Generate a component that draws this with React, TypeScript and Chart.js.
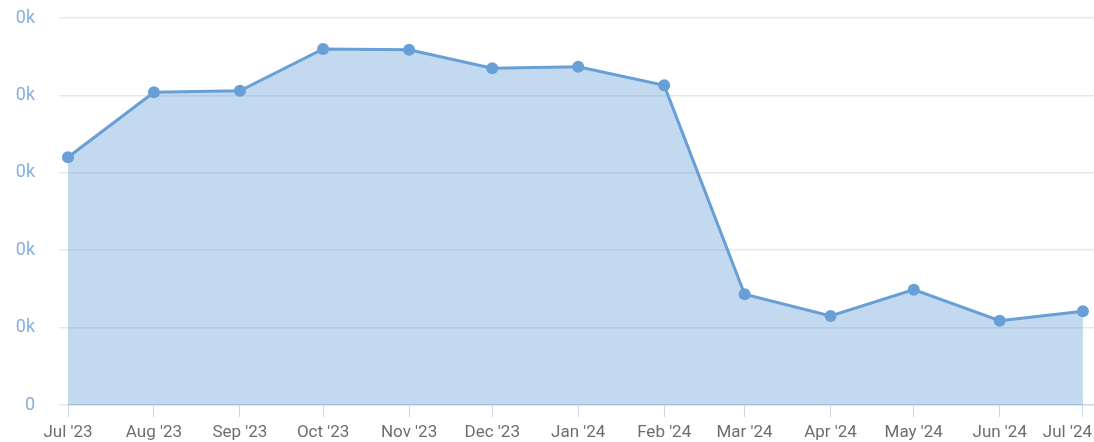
import React, { useEffect, useRef } from "react";
import { Chart, registerables } from "chart.js";

Chart.register(...registerables);

const monthLabels = ["Jul '23", "Aug '23", "Sep '23", "Oct '23", "Nov '23", "Dec '23", "Jan '24", "Feb '24", "Mar '24", "Apr '24", "May '24", "Jun '24", "Jul '24"];
const monthDates = ["2023-07-01", "2023-08-01", "2023-09-01", "2023-10-01", "2023-11-01", "2023-12-01", "2024-01-01", "2024-02-01", "2024-03-01", "2024-04-01", "2024-05-01", "2024-06-01", "2024-07-01"];
const seriesValues = [32.0, 40.4, 40.6, 46.0, 45.9, 43.5, 43.7, 41.3, 14.3, 11.5, 14.9, 10.9, 12.1];
const yTickValues = [0, 10, 20, 30, 40, 50];
const yTickLabels = ["0", "0k", "0k", "0k", "0k", "0k"];

const startDate = "2023-07-01";
const endDate = "2024-07-05";

const dayOffset = (d: string) => {
  const [y, m, dd] = d.split("-").map(Number);
  const [y0, m0, d0] = startDate.split("-").map(Number);
  return (Date.UTC(y, m - 1, dd) - Date.UTC(y0, m0 - 1, d0)) / 86400000;
};

const FONT = "Roboto, 'Noto Sans', sans-serif";

export default function App() {
  const ref = useRef<HTMLCanvasElement | null>(null);

  useEffect(() => {
    if (!ref.current) return;
    const xs = monthDates.map(dayOffset);
    const points = seriesValues.map((v, i) => ({ x: xs[i], y: v }));

    const xLabelPlugin = {
      id: "xLabels",
      afterDraw(chart: any) {
        const scale = chart.scales.x;
        const ctx = chart.ctx;
        ctx.save();
        ctx.font = `17px ${FONT}`;
        ctx.fillStyle = "#6e6e6e";
        ctx.textBaseline = "alphabetic";
        ctx.textAlign = "left";
        xs.forEach((v, i) => {
          const px = scale.getPixelForValue(v);
          const label = monthLabels[i];
          const w = ctx.measureText(label).width;
          let left = px - w / 2;
          if (left + w > chart.width - 2) left = chart.width - 2 - w;
          if (left < 2) left = 2;
          ctx.fillText(label, left, 437);
        });
        ctx.restore();
      },
    };

    const chart = new Chart(ref.current, {
      type: "line",
      data: {
        datasets: [
          {
            data: points,
            borderColor: "#689fd6",
            backgroundColor: "rgba(104,159,214,0.4)",
            borderWidth: 3,
            fill: "origin",
            clip: false,
            pointRadius: 6,
            pointBackgroundColor: "#689fd6",
            pointBorderWidth: 0,
            tension: 0,
          },
        ],
      },
      options: {
        animation: false,
        responsive: false,
        events: [],
        layout: { autoPadding: false, padding: { top: 18, left: 0, right: 0, bottom: 0 } },
        plugins: { legend: { display: false }, tooltip: { enabled: false } },
        scales: {
          x: {
            type: "linear",
            min: 0,
            max: dayOffset(endDate),
            afterBuildTicks: (scale: any) => {
              scale.ticks = xs.map((v) => ({ value: v }));
            },
            afterFit: (scale: any) => {
              scale.height = 37;
              scale.paddingLeft = 0;
              scale.paddingRight = 0;
            },
            ticks: { display: false },
            grid: {
              drawOnChartArea: false,
              drawTicks: true,
              tickLength: 12,
              color: "#ccd6eb",
              lineWidth: 1,
            },
            border: { display: true, color: "#ccd6eb", width: 1.5 },
          },
          y: {
            min: 0,
            max: 50,
            afterBuildTicks: (scale: any) => {
              scale.ticks = yTickValues.map((v) => ({ value: v }));
            },
            afterFit: (scale: any) => {
              scale.width = 68;
              scale.paddingTop = 0;
              scale.paddingBottom = 0;
            },
            ticks: {
              padding: 24,
              color: "#86b0dd",
              font: { family: FONT, size: 18 },
              callback: (v: any) => {
                const i = yTickValues.indexOf(Number(v));
                return i >= 0 ? yTickLabels[i] : "";
              },
            },
            grid: {
              color: "#e8e8e8",
              lineWidth: 1.5,
              drawTicks: true,
              tickLength: 9,
            },
            border: { display: false },
          },
        },
      },
      plugins: [xLabelPlugin],
    } as any);

    return () => chart.destroy();
  }, []);

  return (
    <div style={{ position: "absolute", left: 0, top: 0, width: 1094, height: 442, background: "#fff" }}>
      <canvas ref={ref} width={1094} height={442} style={{ width: 1094, height: 442, display: "block" }} />
    </div>
  );
}
